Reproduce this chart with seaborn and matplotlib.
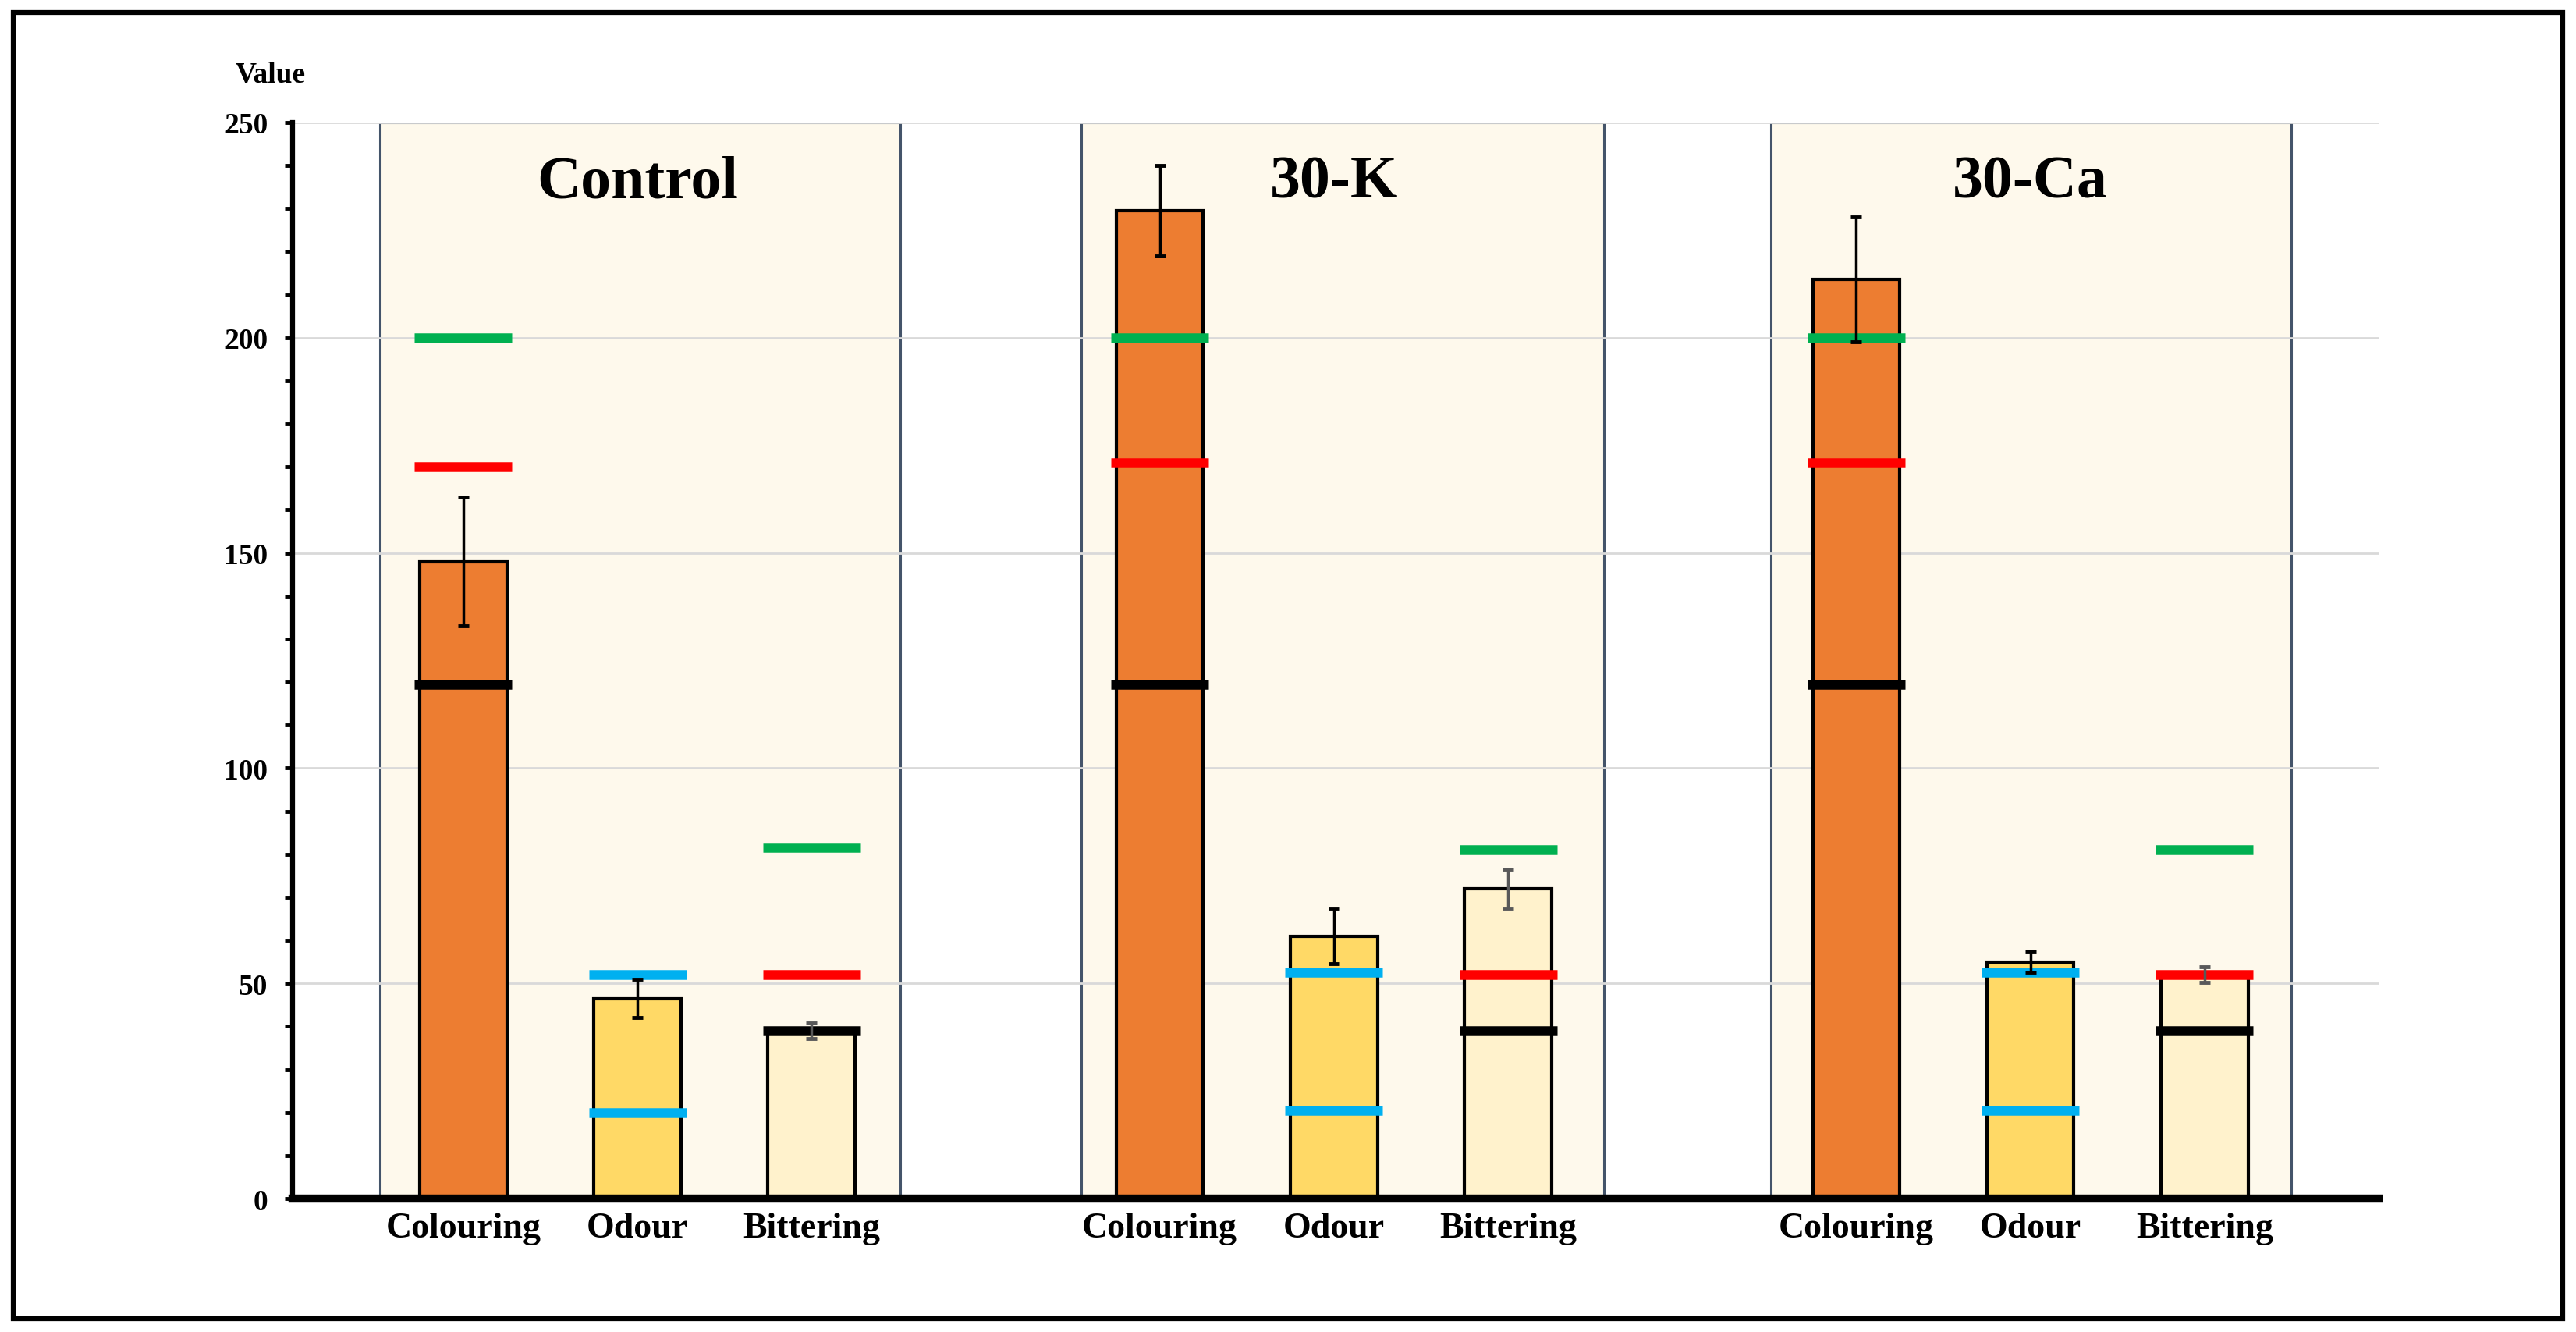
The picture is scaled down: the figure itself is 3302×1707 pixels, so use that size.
import numpy as np
import pandas as pd
import matplotlib
matplotlib.use('Agg')
import matplotlib.pyplot as plt
import seaborn as sns
from matplotlib.patches import Rectangle
from matplotlib.ticker import MultipleLocator

groups = ['Control', '30-K', '30-Ca']
traits = ['Colouring', 'Odour', 'Bittering']
positions = [0, 1, 2, 4, 5, 6, 8, 9, 10]

mean_control = [148, 46.5, 39]
mean_30k = [229.5, 61, 72]
mean_30ca = [213.5, 55, 52]

err_control = [15, 4.5, 1.8]
err_30k = [10.5, 6.5, 4.5]
err_30ca = [14.5, 2.5, 1.8]

# reference lines per group
ref_colouring = [[200, 170, 119.5], [200, 171, 119.5], [200, 171, 119.5]]   # green, red, black
ref_odour = [[52, 20], [52.5, 20.5], [52.5, 20.5]]                         # cyan, cyan
ref_bittering = [[81.5, 52, 39], [81, 52, 39], [81, 52, 39]]                # green, red, black

bar_colors = {'Colouring': '#ED7D31', 'Odour': '#FFD966', 'Bittering': '#FFF2CC'}
err_colors = {'Colouring': 'black', 'Odour': 'black', 'Bittering': '#595959'}
ref_colors = {'Colouring': ['#00B050', '#FF0000', 'black'],
              'Odour': ['#00B0F0', '#00B0F0'],
              'Bittering': ['#00B050', '#FF0000', 'black']}

means = mean_control + mean_30k + mean_30ca
errs = err_control + err_30k + err_30ca
refs = []
for g in range(3):
    refs += [ref_colouring[g], ref_odour[g], ref_bittering[g]]

df = pd.DataFrame({'pos': positions,
                   'value': means,
                   'err': errs,
                   'trait': traits * 3,
                   'group': np.repeat(groups, 3)})

sns.set_style('white', {'axes.edgecolor': 'black', 'text.color': 'black',
                        'xtick.color': 'black', 'ytick.color': 'black',
                        'axes.labelcolor': 'black'})
plt.rcParams['font.family'] = ['Liberation Serif', 'DejaVu Serif']
plt.rcParams['font.weight'] = 'bold'

fig = plt.figure(figsize=(33.02, 17.08), dpi=100)
ax = fig.add_axes([0.1136, 0.1001, 0.8098, 0.8074])

# background panels
panel_spans = [(-0.48, 2.51), (3.55, 6.55), (7.51, 10.5)]
for (a, b) in panel_spans:
    ax.axvspan(a, b, ymin=0, ymax=1, facecolor='#FEF9EC', edgecolor='#44546A',
               linewidth=2.2, zorder=0)

ax.set_axisbelow(True)
ax.yaxis.grid(True, color='#D9D9D9', linewidth=2)

sns.barplot(data=df, x='pos', y='value', hue='trait', palette=bar_colors,
            native_scale=True, width=0.5, dodge=False, edgecolor='black',
            linewidth=3, errorbar=None, legend=False, saturation=1,
            zorder=3, ax=ax)

for i, row in df.iterrows():
    ax.errorbar(row['pos'], row['value'], yerr=row['err'], fmt='none',
                ecolor=err_colors[row['trait']], elinewidth=2.5, capsize=5,
                capthick=3.5, zorder=6)
    for y, c in zip(refs[i], ref_colors[row['trait']]):
        ax.hlines(y, row['pos'] - 0.28, row['pos'] + 0.28, colors=c,
                  linewidth=9, zorder=5)

for g, name in enumerate(groups):
    ax.text(positions[g * 3 + 1], 236, name, ha='center', va='center',
            fontsize=56, fontweight='bold')

ax.set_xlim(-0.98, 11.0)
ax.set_ylim(0, 250)
ax.set_xticks(positions)
ax.set_xticklabels(traits * 3, fontsize=33, fontweight='bold')
ax.tick_params(axis='x', length=0, pad=12)
ax.yaxis.set_major_locator(MultipleLocator(50))
ax.yaxis.set_minor_locator(MultipleLocator(10))
ax.tick_params(axis='y', which='both', direction='out', length=7, width=3.5,
               labelsize=27, pad=16, left=True)
for lab in ax.get_yticklabels():
    lab.set_fontweight('bold')
ax.set_xlabel('')
ax.set_ylabel('')

for s in ['top', 'right']:
    ax.spines[s].set_visible(False)
ax.spines['left'].set_linewidth(4.5)
ax.spines['bottom'].set_linewidth(7.5)
ax.spines['left'].set_zorder(7)
ax.spines['bottom'].set_zorder(7)

fig.text(0.105, 0.944, 'Value', ha='center', va='center', fontsize=27,
         fontweight='bold')

fig.add_artist(Rectangle((0.0051, 0.0100), 0.9897, 0.9800,
                         transform=fig.transFigure, fill=False,
                         linewidth=4.5, edgecolor='black'))

fig.savefig('out.png', dpi=100)
